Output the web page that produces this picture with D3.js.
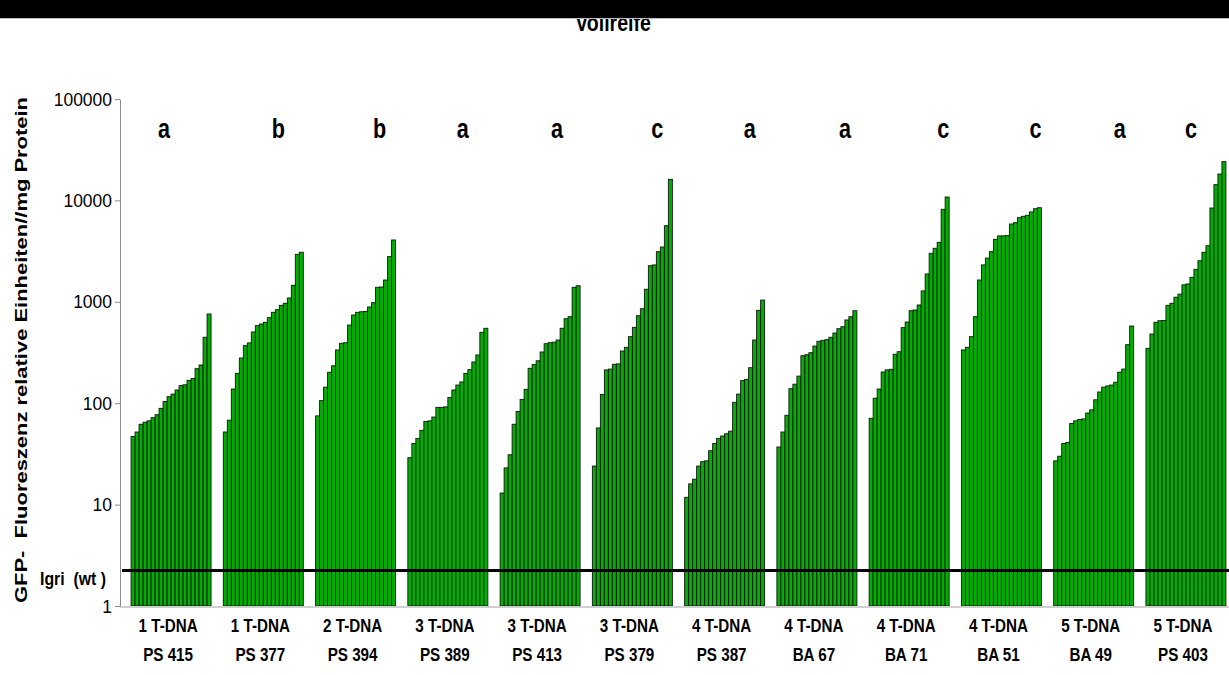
<!DOCTYPE html>
<html>
<head>
<meta charset="utf-8">
<script src="https://cdn.jsdelivr.net/npm/d3@7"></script>
<style>
  html, body { margin: 0; padding: 0; background: #fff; }
  svg { display: block; }
  text { font-family: "Liberation Sans", Arial, sans-serif; }
</style>
</head>
<body>
<svg id="chart" width="1229" height="675"></svg>
<script>
// lines, T-DNA copy numbers and significance letters
const lines = ["PS 415", "PS 377", "PS 394", "PS 389", "PS 413", "PS 379", "PS 387", "BA 67", "BA 71", "BA 51", "BA 49", "PS 403"];
const copies = ["1 T-DNA", "1 T-DNA", "2 T-DNA", "3 T-DNA", "3 T-DNA", "3 T-DNA", "4 T-DNA", "4 T-DNA", "4 T-DNA", "4 T-DNA", "5 T-DNA", "5 T-DNA"];
const letters = ["a", "b", "b", "a", "a", "c", "a", "a", "c", "c", "a", "c"];
const yTicks = [1, 10, 100, 1000, 10000, 100000];
const igriWt = 2.24;

// GFP fluorescence per plant, sorted, one array per line
const ps415 = [47, 52, 62, 65, 67, 72, 77, 89, 104, 116, 123, 135, 149, 152, 168, 175, 219, 238, 447, 758];
const ps377 = [52, 68, 138, 197, 279, 369, 393, 504, 581, 604, 628, 697, 788, 836, 923, 967, 1090, 1455, 2940, 3080];
const ps394 = [75, 106, 144, 202, 234, 335, 390, 395, 590, 741, 788, 798, 805, 889, 980, 1390, 1400, 1640, 2790, 4070];
const ps389 = [29, 40, 45, 54, 66, 67, 73, 91, 91, 92, 114, 135, 151, 162, 197, 214, 255, 299, 500, 548];
const ps413 = [13, 23, 31, 62, 83, 109, 137, 221, 240, 262, 320, 386, 395, 400, 420, 548, 681, 713, 1390, 1440];
const ps379 = [24, 57, 122, 213, 217, 242, 244, 327, 356, 453, 560, 729, 855, 1330, 2270, 2310, 3120, 3470, 5630, 16150];
const ps387 = [11.8, 16, 17.8, 24, 26.5, 27, 34, 40, 45, 47.5, 50, 53, 102, 123, 167, 172, 224, 420, 824, 1040];
const ba67 = [37, 52, 76, 139, 154, 185, 294, 301, 315, 366, 408, 417, 423, 447, 492, 543, 568, 662, 713, 817];
const ba71 = [71, 112, 138, 203, 213, 216, 304, 322, 556, 632, 817, 830, 930, 1280, 1880, 3010, 3370, 3860, 8170, 10800];
const ba51 = [335, 356, 453, 713, 1640, 2310, 2700, 3120, 4130, 4460, 4470, 4490, 5850, 6030, 6750, 6970, 7130, 7690, 8280, 8470];
const ba49 = [27, 30, 40, 41, 63, 67, 69, 70, 80, 86, 108, 129, 144, 148, 151, 161, 202, 217, 378, 577];
const ps403 = [348, 481, 628, 651, 655, 923, 967, 1110, 1190, 1470, 1500, 1745, 2090, 2540, 3080, 3570, 8410, 14300, 18200, 24100];

const series = [ps415, ps377, ps394, ps389, ps413, ps379, ps387, ba67, ba71, ba51, ba49, ps403];

// hand placement of the letters relative to each group centre
const letterShift = [-7, 15, 24, 15, 17, 25, 25, 28, 34, 34, 26, 5];

const svg = d3.select("svg#chart");

const x = d3.scaleBand().domain(lines).range([120, 1237]).paddingInner(0.133).paddingOuter(0.12);
const xi = d3.scaleBand().domain(d3.range(20)).range([0, x.bandwidth()]);
const y = d3.scaleLog().domain([1, 100000]).range([606, 99]);

// narrow text, the original picture is squeezed sideways
const squeeze = (px, py, sx) => `translate(${px},${py}) scale(${sx},1)`;

// bars
svg.append("g")
  .selectAll("g")
  .data(series)
  .join("g")
  .attr("transform", (d, i) => `translate(${x(lines[i])},0)`)
  .selectAll("rect")
  .data(d => d)
  .join("rect")
  .attr("x", (d, j) => xi(j))
  .attr("y", d => y(d))
  .attr("width", xi.bandwidth())
  .attr("height", d => y(1) - y(d))
  .attr("fill", "#00b000")
  .attr("stroke", "#141414")
  .attr("stroke-width", 0.9);

// bottom baseline
svg.append("line")
  .attr("x1", 120).attr("x2", 1229)
  .attr("y1", y(1) + 1).attr("y2", y(1) + 1)
  .attr("stroke", "#cfcfcf").attr("stroke-width", 2);

// y axis
const yAxis = svg.append("g")
  .attr("transform", "translate(120,0)")
  .call(d3.axisLeft(y).tickValues(yTicks).tickFormat(d3.format("d")).tickSize(5).tickSizeOuter(0).tickPadding(3));
yAxis.select(".domain").attr("stroke", "#8c8c8c");
yAxis.selectAll(".tick line").attr("stroke", "#8c8c8c");
yAxis.selectAll(".tick text")
  .attr("font-family", "'Liberation Sans', Arial, sans-serif")
  .attr("font-size", 19)
  .attr("fill", "#000")
  .attr("transform", "scale(0.92,1)")
  .attr("x", -8 / 0.92);

// wild type reference line
svg.append("line")
  .attr("x1", 122).attr("x2", 1229)
  .attr("y1", y(igriWt)).attr("y2", y(igriWt))
  .attr("stroke", "#000").attr("stroke-width", 3);

svg.append("text")
  .attr("transform", squeeze(40, 585, 0.88))
  .attr("font-size", 18).attr("font-weight", "bold")
  .style("white-space", "pre")
  .text("Igri  (wt )");

// y axis title
svg.append("text")
  .attr("transform", "translate(27,603) rotate(-90)")
  .attr("font-size", 17).attr("font-weight", "bold")
  .attr("textLength", 506)
  .attr("lengthAdjust", "spacingAndGlyphs")
  .style("white-space", "pre")
  .text("GFP-  Fluoreszenz relative Einheiten//mg Protein");

// category labels
const labels = svg.append("g").attr("font-size", 19).attr("font-weight", "bold").attr("text-anchor", "middle");
labels.selectAll("text.copies")
  .data(lines)
  .join("text")
  .attr("class", "copies")
  .attr("transform", d => squeeze(x(d) + x.bandwidth() / 2 - 3, 632, 0.8))
  .text((d, i) => copies[i]);
labels.selectAll("text.line")
  .data(lines)
  .join("text")
  .attr("class", "line")
  .attr("transform", d => squeeze(x(d) + x.bandwidth() / 2 - 3, 661, 0.8))
  .text(d => d);

// significance letters
svg.append("g")
  .selectAll("text")
  .data(letters)
  .join("text")
  .attr("transform", (d, i) => squeeze(x(lines[i]) + x.bandwidth() / 2 + letterShift[i], 138, 0.8))
  .attr("text-anchor", "middle")
  .attr("font-family", "'Open Sans', sans-serif")
  .attr("font-size", 27)
  .attr("font-weight", "bold")
  .text(d => d);

// title, partly hidden under the black band
svg.append("text")
  .attr("transform", squeeze(613, 31, 0.85))
  .attr("text-anchor", "middle")
  .attr("font-size", 23).attr("font-weight", "bold")
  .text("Vollreife");
svg.append("rect")
  .attr("x", 0).attr("y", 0).attr("width", 1229).attr("height", 18)
  .attr("fill", "#000");
svg.append("line")
  .attr("x1", 0).attr("x2", 1229).attr("y1", 18.5).attr("y2", 18.5)
  .attr("stroke", "#bdbdbd");
</script>
</body>
</html>
